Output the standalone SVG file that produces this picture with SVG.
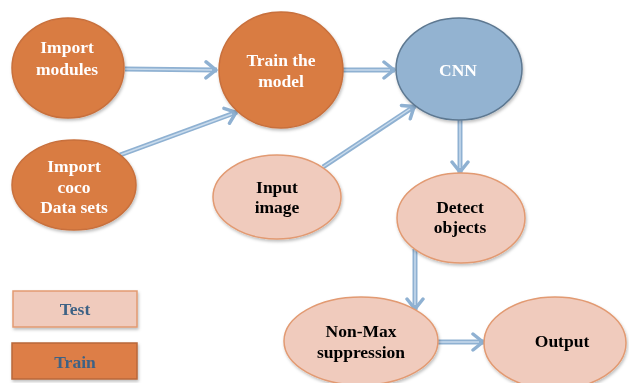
<svg xmlns="http://www.w3.org/2000/svg" width="629" height="383" viewBox="0 0 629 383">
<defs>
<style>
.train{fill:#d97b43;stroke:#c8703c;stroke-width:1.5}
.test{fill:#f0cbbd;stroke:#e29a72;stroke-width:1.5}
.cnn{fill:#93b3d1;stroke:#5d7891;stroke-width:1.5}
.tw{font-family:"Liberation Serif",serif;font-weight:bold;font-size:17.5px;fill:#fff;text-anchor:middle}
.tb{font-family:"Liberation Serif",serif;font-weight:bold;font-size:17.5px;fill:#000;text-anchor:middle}
.tl{font-family:"Liberation Serif",serif;font-weight:bold;font-size:17.5px;fill:#3e6285;text-anchor:middle}
.sh{stroke:#8fb1d2;stroke-width:5;fill:none}
.si{stroke:#c9dbec;stroke-width:1.5;fill:none}
</style>
<marker id="ah" viewBox="0 0 14 20" refX="13" refY="10" markerWidth="14" markerHeight="20" markerUnits="userSpaceOnUse" orient="auto">
<polyline points="2,2 12,10 2,18" fill="none" stroke="#8fb1d2" stroke-width="3.5" stroke-linecap="round" stroke-linejoin="round"/>
</marker>
<filter id="ds" x="-20%" y="-20%" width="140%" height="140%">
<feDropShadow dx="1" dy="2" stdDeviation="1.5" flood-color="#000" flood-opacity="0.25"/>
</filter>
</defs>
<rect width="629" height="383" fill="#fff"/>
<g id="connectors">
<path class="sh" d="M125,69 L217,70" marker-end="url(#ah)"/>
<path class="si" d="M125,69 L212,70"/>
<path class="sh" d="M120,155 L237,112" marker-end="url(#ah)"/>
<path class="si" d="M120,155 L232,114"/>
<path class="sh" d="M343,70 L395,70" marker-end="url(#ah)"/>
<path class="si" d="M343,70 L390,70"/>
<path class="sh" d="M323,167 L415,106" marker-end="url(#ah)"/>
<path class="si" d="M323,167 L410,109"/>
<path class="sh" d="M460,120 L460,173" marker-end="url(#ah)"/>
<path class="si" d="M460,120 L460,168"/>
<path class="sh" d="M415,249 L415,310" marker-end="url(#ah)"/>
<path class="si" d="M415,249 L415,305"/>
<path class="sh" d="M438,342 L484,342" marker-end="url(#ah)"/>
<path class="si" d="M438,342 L479,342"/>
</g>
<g id="import-modules" filter="url(#ds)">
<ellipse class="train" cx="68" cy="68" rx="56" ry="50"/>
<text class="tw" x="67" y="53">Import</text>
<text class="tw" x="67" y="75">modules</text>
</g>
<g id="train-model" filter="url(#ds)">
<ellipse class="train" cx="281" cy="70" rx="62" ry="58"/>
<text class="tw" x="281" y="66">Train the</text>
<text class="tw" x="281" y="87">model</text>
</g>
<g id="import-coco" filter="url(#ds)">
<ellipse class="train" cx="74" cy="185" rx="62" ry="45"/>
<text class="tw" x="74" y="172">Import</text>
<text class="tw" x="74" y="193">coco</text>
<text class="tw" x="74" y="213">Data sets</text>
</g>
<g id="input-image" filter="url(#ds)">
<ellipse class="test" cx="277" cy="197" rx="64" ry="42"/>
<text class="tb" x="277" y="193">Input</text>
<text class="tb" x="277" y="213">image</text>
</g>
<g id="cnn" filter="url(#ds)">
<ellipse class="cnn" cx="459" cy="69" rx="63" ry="51"/>
<text class="tw" x="458" y="76">CNN</text>
</g>
<g id="detect-objects" filter="url(#ds)">
<ellipse class="test" cx="461" cy="218" rx="64" ry="45"/>
<text class="tb" x="460" y="213">Detect</text>
<text class="tb" x="460" y="233">objects</text>
</g>
<g id="non-max" filter="url(#ds)">
<ellipse class="test" cx="361" cy="341" rx="77" ry="44"/>
<text class="tb" x="361" y="337">Non-Max</text>
<text class="tb" x="361" y="358">suppression</text>
</g>
<g id="output" filter="url(#ds)">
<ellipse class="test" cx="555" cy="343" rx="71" ry="46"/>
<text class="tb" x="562" y="347">Output</text>
</g>
<g id="legend-test" filter="url(#ds)">
<rect class="test" x="13" y="291" width="124" height="36"/>
<text class="tl" x="75" y="315">Test</text>
</g>
<g id="legend-train" filter="url(#ds)">
<rect x="12" y="343" width="125" height="36" fill="#dd7e47" stroke="#b8683a" stroke-width="1.5"/>
<text class="tl" x="75" y="368">Train</text>
</g>
</svg>
